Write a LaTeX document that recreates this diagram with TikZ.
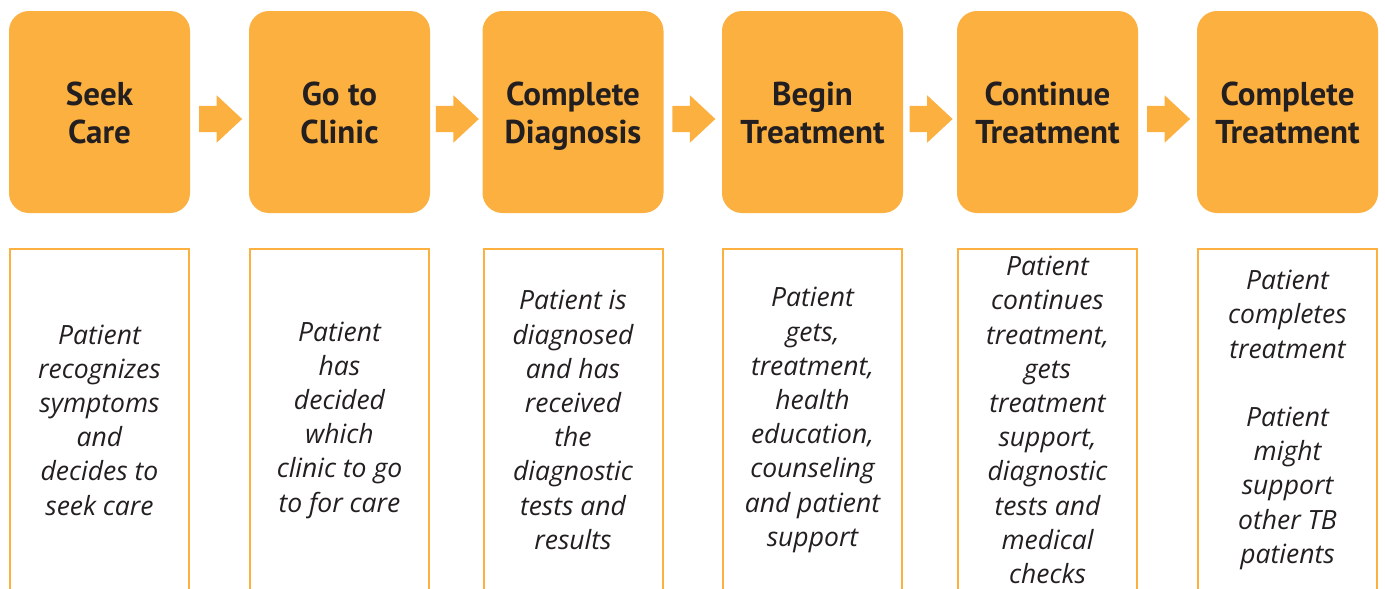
\documentclass[tikz,border=0pt]{standalone}
\usepackage{fontspec}
\setmainfont{PT Sans}
\newfontfamily\notefont{Open Sans}
\usetikzlibrary{shapes.arrows,calc}
\definecolor{tborange}{HTML}{FBB040}
\definecolor{tbtext}{HTML}{231F20}
\newcommand{\topstrut}{\rule{0pt}{36pt}}

\begin{document}
\begin{tikzpicture}[x=1pt,y=-1pt]
\useasboundingbox (0,0) rectangle (1385,589);
\clip (0,0) rectangle (1385,589);

\begin{scope}[every node/.style={rectangle,rounded corners=20pt,fill=tborange,text=tbtext,minimum width=181pt,minimum height=202pt,inner sep=0pt,align=center,font=\bfseries\fontsize{33}{38}\selectfont}]
\node (0) at (99.5,112) {\topstrut Seek\\Care\strut};
\node (1) at (339.5,112) {\topstrut Go to\\Clinic\strut};
\node (2) at (573,112) {\topstrut Complete\\Diagnosis\strut};
\node (3) at (812.5,112) {\topstrut Begin\\Treatment\strut};
\node (4) at (1047.5,112) {\topstrut Continue\\Treatment\strut};
\node (5) at (1287.5,112) {\topstrut Complete\\Treatment\strut};
\end{scope}

\begin{scope}[every node/.style={single arrow,fill=tborange,minimum height=43pt,single arrow head extend=10.5pt,single arrow tip angle=86,inner sep=0pt}]
\node (a0) at ($(0.east)!0.5!(1.west)+(-6,7)$) {\vrule width 0pt height 26pt};
\node (a1) at ($(1.east)!0.5!(2.west)+(-6,7)$) {\vrule width 0pt height 26pt};
\node (a2) at ($(2.east)!0.5!(3.west)+(-6,7)$) {\vrule width 0pt height 26pt};
\node (a3) at ($(3.east)!0.5!(4.west)+(-6,7)$) {\vrule width 0pt height 26pt};
\node (a4) at ($(4.east)!0.5!(5.west)+(-6,7)$) {\vrule width 0pt height 26pt};
\end{scope}

\begin{scope}[every node/.style={rectangle,draw=tborange,line width=2pt,text=tbtext,minimum width=179pt,minimum height=342pt,inner sep=0pt,align=center,font=\notefont\itshape\fontsize{26.5}{34.2}\selectfont}]
\node (6) at (99.5,420) {Patient\\recognizes\\symptoms\\and\\decides to\\seek care};
\node (7) at (339.5,420) {Patient\\has\\decided\\which\\clinic to go\\to for care};
\node (8) at (573,420) {Patient is\\diagnosed\\and has\\received\\the\\diagnostic\\tests and\\results};
\node (9) at (812.5,420) {Patient\\gets,\\treatment,\\health\\education,\\counseling\\and patient\\support};
\node (10) at (1047.5,420) {Patient\\continues\\treatment,\\gets\\treatment\\support,\\diagnostic\\tests and\\medical\\checks};
\node (11) at (1287.5,420) {Patient\\completes\\treatment\\[34.2pt]Patient\\might\\support\\other TB\\patients};
\end{scope}

\end{tikzpicture}
\end{document}
